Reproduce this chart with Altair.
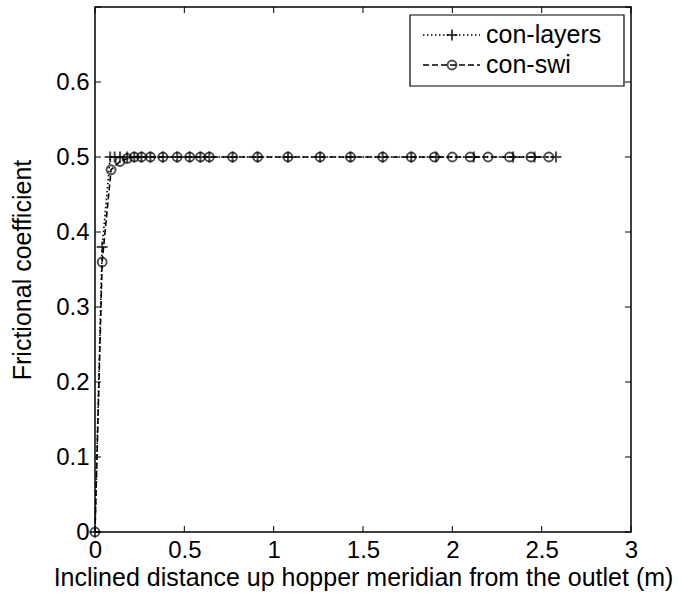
import altair as alt
import pandas as pd

# ---- data ----
swi_x = [0, 0.04, 0.09, 0.14, 0.18, 0.22, 0.26, 0.31, 0.38, 0.46, 0.53, 0.59, 0.64,
         0.77, 0.91, 1.08, 1.26, 1.43, 1.61, 1.77, 1.90, 2.00, 2.10, 2.20, 2.32, 2.44, 2.54]
swi_y = [0, 0.36, 0.483, 0.494, 0.498] + [0.5] * 22

layers_x = [0, 0.04, 0.085, 0.11, 0.14, 0.18, 0.22, 0.26, 0.31, 0.38, 0.46, 0.53, 0.59, 0.64,
            0.77, 0.91, 1.08, 1.26, 1.43, 1.61, 1.77, 1.91, 2.12, 2.34, 2.46, 2.58]
layers_y = [0, 0.38] + [0.5] * 24

x_ticks = [0, 0.5, 1, 1.5, 2, 2.5, 3]
y_ticks = [0, 0.1, 0.2, 0.3, 0.4, 0.5, 0.6, 0.7]
y_labels = [0, 0.1, 0.2, 0.3, 0.4, 0.5, 0.6]

series_names = ["con-layers", "con-swi"]

W, H = 536, 525
FONT = "Liberation Sans"
TICK_FS = 24
TITLE_FS = 25

swi = pd.DataFrame({"x": swi_x, "y": swi_y})
lay = pd.DataFrame({"x": layers_x, "y": layers_y})

xs = alt.Scale(domain=[0, 3], nice=False, zero=False)
ys = alt.Scale(domain=[0, 0.7], nice=False, zero=False)

X = alt.X("x:Q", scale=xs, title="Inclined distance up hopper meridian from the outlet (m)",
          axis=alt.Axis(values=x_ticks, format="~g", domain=False, ticks=False, grid=False,
                        labelFontSize=TICK_FS, labelFont=FONT, labelColor="black", labelPadding=6,
                        titleFontSize=TITLE_FS, titleFont=FONT, titleFontWeight="normal",
                        titleColor="black", titlePadding=3, labelFlush=False))
Y = alt.Y("y:Q", scale=ys, title="Frictional coefficient",
          axis=alt.Axis(values=y_labels, format="~g", domain=False, ticks=False, grid=False,
                        labelFontSize=TICK_FS, labelFont=FONT, labelColor="black", labelPadding=6,
                        titleFontSize=TITLE_FS, titleFont=FONT, titleFontWeight="normal",
                        titleColor="black", titlePadding=20, labelFlush=False))

PLUS = "M-1,0L1,0M0,-1L0,1"

lay_line = alt.Chart(lay).mark_line(color="black", strokeWidth=1.6, strokeDash=[1.5, 2.5]).encode(x=X, y=Y)
lay_pts = alt.Chart(lay).mark_point(shape=PLUS, size=120, color="black", strokeWidth=2, filled=False).encode(x="x:Q", y="y:Q")
swi_line = alt.Chart(swi).mark_line(color="black", strokeWidth=1.6, strokeDash=[6, 3]).encode(x="x:Q", y="y:Q")
swi_pts = alt.Chart(swi).mark_point(shape="circle", size=80, color="black", strokeWidth=1.9, filled=False).encode(x="x:Q", y="y:Q")

# inward ticks on all four sides
xt = pd.DataFrame({"x": x_ticks})
yt = pd.DataFrame({"y": y_ticks})
tick_b = alt.Chart(xt).mark_rule(color="black", strokeWidth=1).encode(x="x:Q", y=alt.value(H), y2=alt.value(H - 6))
tick_t = alt.Chart(xt).mark_rule(color="black", strokeWidth=1).encode(x="x:Q", y=alt.value(0), y2=alt.value(6))
tick_l = alt.Chart(yt).mark_rule(color="black", strokeWidth=1).encode(y="y:Q", x=alt.value(0), x2=alt.value(6))
tick_r = alt.Chart(yt).mark_rule(color="black", strokeWidth=1).encode(y="y:Q", x=alt.value(W), x2=alt.value(W - 6))

# legend box (inside the plot, top right)
one = pd.DataFrame({"a": [0]})
LY1, LY2 = 28, 58
leg_box = alt.Chart(one).mark_rect(fill="white", stroke="black", strokeWidth=1.2).encode(
    x=alt.value(315), x2=alt.value(529), y=alt.value(8), y2=alt.value(79))
leg_l1 = alt.Chart(one).mark_rule(color="black", strokeWidth=1.6, strokeDash=[1.5, 2.5]).encode(
    x=alt.value(328), x2=alt.value(385), y=alt.value(LY1))
leg_l2 = alt.Chart(one).mark_rule(color="black", strokeWidth=1.6, strokeDash=[6, 3]).encode(
    x=alt.value(328), x2=alt.value(385), y=alt.value(LY2))
leg_p1 = alt.Chart(one).mark_point(shape=PLUS, size=120, color="black", strokeWidth=2).encode(
    x=alt.value(357), y=alt.value(LY1))
leg_p2 = alt.Chart(one).mark_point(shape="circle", size=80, color="black", strokeWidth=1.9, filled=False).encode(
    x=alt.value(357), y=alt.value(LY2))
leg_t1 = alt.Chart(one).mark_text(align="left", baseline="middle", font=FONT, fontSize=25,
                                  color="black", text=series_names[0]).encode(x=alt.value(391), y=alt.value(LY1))
leg_t2 = alt.Chart(one).mark_text(align="left", baseline="middle", font=FONT, fontSize=25,
                                  color="black", text=series_names[1]).encode(x=alt.value(391), y=alt.value(LY2))

chart = alt.layer(
    lay_line, swi_line, lay_pts, swi_pts,
    tick_b, tick_t, tick_l, tick_r,
    leg_box, leg_l1, leg_l2, leg_p1, leg_p2, leg_t1, leg_t2
).properties(
    width=W, height=H,
    autosize=alt.AutoSizeParams(type="none"),
    padding={"left": 95, "top": 7, "right": 51, "bottom": 63},
    background="white",
).configure_view(stroke="black", strokeWidth=1.5)

chart.save("out.html", embed_options={"renderer": "svg", "actions": False})
